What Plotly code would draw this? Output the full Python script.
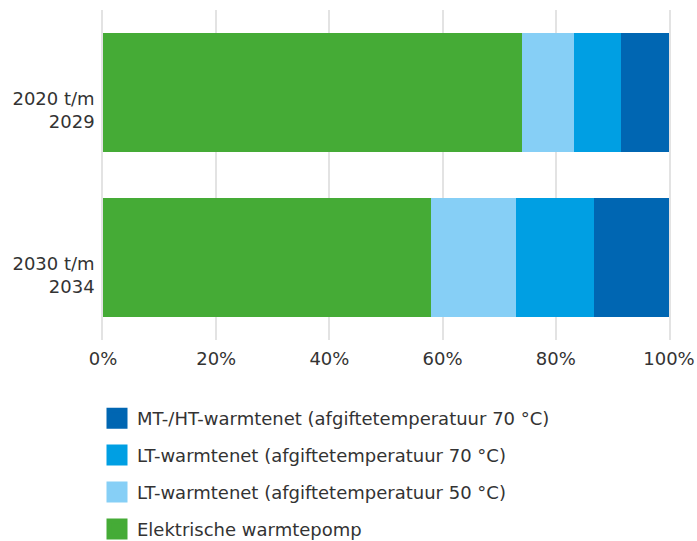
import plotly.graph_objects as go

categories = ["2020 t/m<br>2029", "2030 t/m<br>2034"]
series_names = [
    "Elektrische warmtepomp",
    "LT-warmtenet (afgiftetemperatuur 50 °C)",
    "LT-warmtenet (afgiftetemperatuur 70 °C)",
    "MT-/HT-warmtenet (afgiftetemperatuur 70 °C)",
]
elektrisch = [74.0, 58.0]
lt50 = [9.2, 15.0]
lt70 = [8.4, 13.7]
mtht = [8.4, 13.3]
series_values = [elektrisch, lt50, lt70, mtht]
colors = ["#45AB36", "#86CFF6", "#009FE3", "#0066B2"]
x_ticks = [0, 20, 40, 60, 80, 100]
x_ticklabels = ["0%", "20%", "40%", "60%", "80%", "100%"]

FONT = "DejaVu Sans"
TXT = "#333333"
LABEL_SHIFT = 0.109  # category labels sit slightly below the bar centres

ypos = list(range(len(categories)))

fig = go.Figure()
for name, vals, col in zip(series_names, series_values, colors):
    fig.add_trace(go.Bar(
        y=ypos, x=vals, orientation="h", name=name, width=0.727,
        marker=dict(color=col, line=dict(width=0)),
        showlegend=False, hoverinfo="skip",
    ))
# legend entries (top to bottom: darkest first)
legend_items = list(zip(series_names, colors))[::-1]
for i, (name, col) in enumerate(legend_items):
    fig.add_trace(go.Scatter(
        x=[None], y=[None], mode="markers", name=name,
        marker=dict(symbol="square", size=16, color=col, line=dict(color=col, width=5)),
        legendgroup=f"g{i}", showlegend=True,
    ))

fig.update_layout(
    width=697, height=541,
    barmode="stack",
    margin=dict(l=103, r=28, t=10, b=201, autoexpand=False),
    paper_bgcolor="white", plot_bgcolor="white",
    font=dict(family=FONT, size=18, color=TXT),
    showlegend=True,
    legend=dict(
        xref="container", yref="container",
        x=97/697, y=1 - 400/541, xanchor="left", yanchor="top",
        traceorder="grouped", tracegroupgap=10.5,
        font=dict(family=FONT, size=18, color=TXT),
        itemsizing="trace",
    ),
)
fig.update_xaxes(
    range=[0, 100], tickvals=x_ticks, ticktext=x_ticklabels,
    showgrid=True, gridcolor="#E3E3E3", gridwidth=1.5,
    zeroline=False, showline=False, ticks="", ticklabelstandoff=6,
    tickfont=dict(family=FONT, size=18, color=TXT), fixedrange=True,
)
fig.update_yaxes(
    type="linear", range=[len(categories) - 0.5, -0.5],
    tickmode="array", tickvals=[p + LABEL_SHIFT for p in ypos], ticktext=categories,
    showgrid=False, zeroline=False,
    showline=True, mirror=True, linecolor="#E3E3E3", linewidth=1.5,
    ticks="", ticklabelstandoff=3,
    tickfont=dict(family=FONT, size=18, color=TXT), fixedrange=True,
)
fig.write_html("out.html", post_script="document.body.style.margin='0';",
               config={"displayModeBar": False})
